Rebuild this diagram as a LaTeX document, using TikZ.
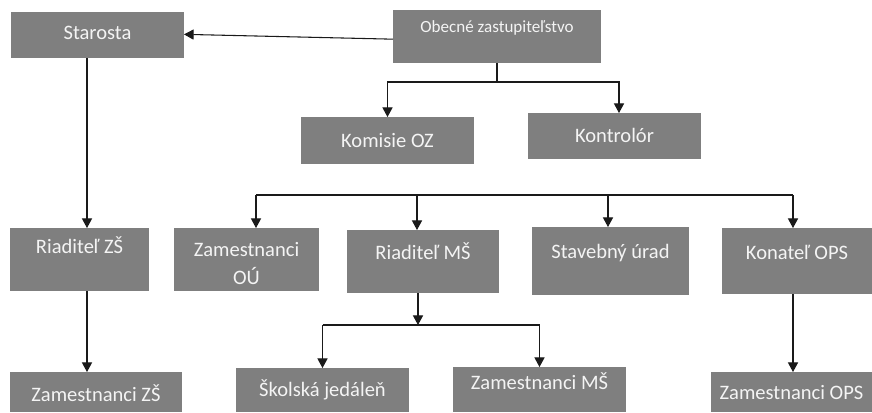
\documentclass[tikz,border=0pt]{standalone}
\usepackage{fontspec}
\setmainfont{Carlito}
\usetikzlibrary{arrows.meta,calc}
\definecolor{boxgray}{HTML}{7F7F7F}
\definecolor{txtwhite}{HTML}{F4F4F4}
\definecolor{linecol}{HTML}{1A1A1A}
\tikzset{
  box/.style={fill=boxgray, draw=none, inner sep=0pt, outer sep=0pt},
  lbl/.style={text=txtwhite, font=\fontsize{15.4pt}{21pt}\selectfont, inner sep=0pt, align=center},
  conn/.style={draw=linecol, line width=0.8pt},
  arr/.style={conn, -{Triangle[length=7.2pt,width=7.6pt]}}
}
\newcommand\obox[8]{%
  \pgfmathsetmacro\bw{(#4-#2)*0.75}%
  \pgfmathsetmacro\bh{(#5-#3)*0.75}%
  \node[box, minimum width=\bw pt, minimum height=\bh pt] (#1) at ({(#2+#4)/2},{(#3+#5)/2}) {};
  \node[lbl, #8] (#1t) at ({(#2+#4)/2},#6) {#7};
}
\begin{document}
\begin{tikzpicture}[x=0.75pt, y=-0.75pt]
\useasboundingbox (0,0) rectangle (872,412);
% boxes
\obox{st}{11}{12}{184}{58}{33}{Starosta}{}
\obox{oz}{393}{10}{601}{63}{28}{Obecné zastupiteľstvo}{font=\fontsize{12.8pt}{15pt}\selectfont}
\obox{kom}{301}{117}{474}{164}{141}{Komisie OZ}{}
\obox{kon}{528}{113}{701}{159}{135}{Kontrolór}{}
\obox{rzs}{10}{228}{149}{291}{245}{Riaditeľ ZŠ}{}
\obox{zou}{174}{228}{319}{291}{264}{Zamestnanci\\OÚ}{font=\fontsize{15.4pt}{21pt}\selectfont}
\obox{rms}{347}{230}{499}{293}{251}{Riaditeľ MŠ}{}
\obox{su}{532}{227}{689}{295}{253}{Stavebný úrad}{}
\obox{kops}{722}{228}{872}{294}{252}{Konateľ OPS}{}
\obox{zzs}{10}{372}{182}{412}{393}{Zamestnanci ZŠ}{}
\obox{sj}{236}{368}{409}{412}{390}{Školská jedáleň}{}
\obox{zms}{453}{367}{626}{412}{381}{Zamestnanci MŠ}{}
\obox{zops}{711}{372}{872}{412}{393}{Zamestnanci OPS}{}
% Obecne -> Starosta
\draw[arr] ([yshift=-2pt]oz.west) -- ([yshift=0.5pt]st.east);
% Obecne -> Komisie, Kontrolor
\coordinate (ozb) at (497,82);
\coordinate (kx) at (619,0);
\draw[conn] (oz.south) -- (ozb);
\draw[arr] (ozb) -| (kom.north);
\draw[arr] (ozb) -| (kx |- kon.north);
% bus
\coordinate (b1) at (256,195);
\coordinate (b2) at (417,195);
\coordinate (b3) at (608,195);
\coordinate (b4) at (793,195);
\draw[conn] (b1) -- (b4);
\draw[arr] (b1) -- (b1 |- zou.north);
\draw[arr] (b2) -- (b2 |- rms.north);
\draw[arr] (b3) -- (b3 |- su.north);
\draw[arr] (b4) -- (b4 |- kops.north);
% Starosta -> Riaditel ZS -> Zamestnanci ZS
\coordinate (c1) at (87,0);
\draw[arr] (c1 |- st.south) -- (c1 |- rzs.north);
\draw[arr] (c1 |- rzs.south) -- (c1 |- zzs.north);
% Riaditel MS -> sub bus
\coordinate (m1) at (418,0);
\coordinate (mb) at (418,325);
\draw[arr] (m1 |- rms.south) -- (mb);
\draw[conn] (sj.north |- mb) -- (zms.north |- mb);
\draw[arr] (sj.north |- mb) -- (sj.north);
\draw[arr] (zms.north |- mb) -- (zms.north);
% Konatel -> Zamestnanci OPS
\draw[arr] (b4 |- kops.south) -- (b4 |- zops.north);
\end{tikzpicture}
\end{document}
